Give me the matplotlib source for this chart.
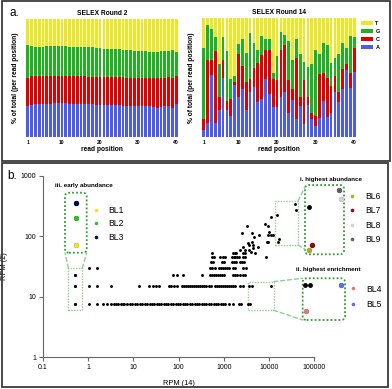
import numpy as np
import matplotlib
matplotlib.use('Agg')
import matplotlib.pyplot as plt
from matplotlib.patches import Rectangle, Patch, FancyBboxPatch
from matplotlib.lines import Line2D
from matplotlib.patches import ConnectionPatch

plt.rcParams['font.family'] = ['Liberation Sans', 'DejaVu Sans']

# ---------------- data: panel a (cumulative % from bottom: A, A+C, A+C+G) ----------------
positions = np.arange(1, 41)
bases = ['A', 'C', 'G', 'T']
base_colors = ['#4d5bea', '#e00000', '#1db31d', '#ebe81c']

r2_A = [26, 27.5, 28, 28, 28, 28, 28, 28.5, 28.5, 28.5, 28.5, 28, 28, 28, 28, 28, 28, 28, 27.5, 27.5,
        27.5, 27.5, 27, 27, 27, 26.5, 26.5, 26.5, 26, 26, 26, 26, 26, 25.5, 25, 25.5, 26, 26.5, 25, 28]
r2_AC = [50, 51.5, 52, 51.5, 51.5, 51.5, 51.5, 52, 51.5, 51.5, 51.5, 51.5, 51.5, 51.5, 51.5, 51.5, 51, 51, 51, 51,
         51, 51, 51, 50.5, 50.5, 50.5, 50, 50, 50, 50, 50, 50, 50, 50, 50, 50, 50, 51, 50, 52]
r2_ACG = [78, 77.5, 76.5, 76.5, 76.5, 77, 77, 77, 77, 77, 77, 76.5, 76.5, 76.5, 76.5, 76, 76, 76, 75.5, 75.5,
          75, 75, 75, 74.5, 74.5, 74, 74, 73.5, 73, 72.5, 72.5, 72.5, 72, 72, 72, 72.5, 72.5, 73, 73.5, 72]

r14_A = [6, 12, 52, 12, 23, 50, 22.5, 18, 44, 34, 40, 23, 38, 42, 29, 32, 49, 36, 25, 25,
         34, 38, 20, 31, 15, 26, 11, 27, 15, 9, 16, 30, 17, 20, 38, 29, 40, 56, 41, 55]
r14_AC = [15, 65, 65, 72, 34, 65, 30, 32, 46, 70, 60, 46, 49, 58, 62, 69, 73, 73, 49, 48,
          73, 77, 48, 40, 66, 34, 48, 34, 20, 18, 53, 54, 50, 43, 51, 38, 57, 61, 54, 75]
r14_ACG = [75, 94, 91, 84, 61, 84, 72, 49, 51.5, 78, 82, 71, 87, 79, 73, 85, 82, 82, 54, 68,
           88, 86, 81, 65, 82, 70, 63, 59, 61, 73, 70, 79, 77, 62, 66, 70, 79, 75, 85, 84]

pos_ticks = [1, 10, 20, 30, 40]

# ---------------- data: panel b (RPM round 14 vs RPM round 2) ----------------
x_row_7 = [0.53, 1.05, 1.58, 2.1, 2.6, 3.2, 3.7, 4.2, 4.7, 5.3, 5.8, 6.3, 7.4, 8.4, 9.5, 11, 12, 14, 16, 18,
           20, 23, 26, 29, 33, 37, 42, 47, 53, 60, 68, 76, 86, 97, 110, 124, 140, 158, 178, 200, 226,
           255, 288, 325, 367, 414, 467, 527, 595, 672, 758, 855, 965, 1090, 1300, 1600, 2200, 2450, 3400]
x_row_15 = [0.53, 1.05, 1.58, 3.2, 13.5, 22, 27, 32, 38, 62, 70, 78, 95, 118, 130, 145, 160, 178, 198, 220,
            245, 272, 302, 336, 373, 415, 461, 512, 632, 702, 780, 867, 963, 1070, 1190, 1320, 1470, 1630,
            1810, 2250, 2700, 3700, 4300]
x_row_22 = [0.53, 75, 91, 124, 330, 500, 560, 620, 690, 760, 840, 930, 1030, 1600, 1800, 2000, 2250, 2700, 3000]
x_row_30 = [1.05, 1.58, 500, 560, 640, 780, 860, 950, 1050, 1180, 1300, 1600, 1800, 2700, 3100]
x_row_37 = [520, 580, 900, 1000, 1550, 1700, 1900, 2300, 2550, 2800]
x_row_45 = [560, 620, 820, 940, 1050, 1500, 1650, 1800, 2000, 2200, 2600, 2900, 8500]
x_row_52 = [540, 1600, 1750, 1900, 2600, 2900]
rows = [(7.5, x_row_7), (15, x_row_15), (22.5, x_row_22), (30, x_row_30),
        (37.5, x_row_37), (45, x_row_45), (52.5, x_row_52)]

x_up = [3300, 2550, 4100, 6000, 4600, 8100, 9300, 11000, 10000, 9500, 11000, 12000, 8900, 9500,
        4100, 3400, 3700, 4500, 5600, 4500, 3000, 2600, 4000, 5000, 3600, 2300, 15000]
y_up = [149, 115, 115, 105, 96, 158, 149, 210, 117, 105, 105, 105, 81, 81,
        81, 76, 72, 72, 66, 63, 60, 66, 55, 52.5, 60, 60, 224]

bl_names = ['BL1', 'BL2', 'BL3', 'BL4', 'BL5', 'BL6', 'BL7', 'BL8', 'BL9']
bl_x = [0.53, 0.53, 0.53, 3800, 11200, 15400, 16600, 40000, 37000]
bl_y = [7.5, 15, 22.5, 7.5, 15, 80, 89, 275, 338]
bl_colors = ['#f0e030', '#30c030', '#0a0a50', '#e07878', '#5c6cf0',
             '#b5a82a', '#8b0a1a', '#d0d0dc', '#606068']

x_ticks_b = [0.1, 1, 10, 100, 1000, 10000, 100000]
x_ticklabels_b = ['0.1', '1', '10', '100', '1000', '10000', '100000']
y_ticks_b = [1, 10, 100, 1000]
y_ticklabels_b = ['1', '10', '100', '1000']

# zoomed regions: x-range, y-range, highlighted BL indices
zoom_iii = ([0.367, 0.75], [6.05, 29.6], [0, 1, 2])
zoom_i = ([13500, 43600], [72, 382], [5, 6, 7, 8])
zoom_ii = ([3450, 12600], [6.0, 17.8], [3, 4])

# all points together
all_x = []
all_y = []
for yv, xs in rows:
    all_x += xs
    all_y += [yv] * len(xs)
all_x += x_up + bl_x
all_y += y_up + bl_y
all_x = np.array(all_x)
all_y = np.array(all_y)

# ---------------- figure ----------------
W, H = 392, 389
fig = plt.figure(figsize=(W / 100, H / 100), dpi=100)


def box(l, t, r, b):
    # pixel box -> figure fraction
    return [l / W, 1 - b / H, (r - l) / W, (b - t) / H]


# panel frames
for (l, t, r, b) in [(1.5, 1.5, 390, 161.5), (1.5, 162.5, 388, 387)]:
    fig.add_artist(Rectangle((l / W, 1 - b / H), (r - l) / W, (b - t) / H, transform=fig.transFigure,
                             fill=False, ec='#3a3a3a', lw=1.3))

fig.text(9 / W, 1 - 13 / H, 'a.', fontsize=8.5, va='center', ha='left')
fig.text(7 / W, 1 - 176 / H, 'b.', fontsize=8.5, va='center', ha='left')

# ---- panel a ----
def stacked(ax, a, ac, acg, title):
    a = np.array(a); ac = np.array(ac); acg = np.array(acg)
    heights = [a, ac - a, acg - ac, 100 - acg]
    bottoms = [0 * a, a, ac, acg]
    for h, btm, c in zip(heights, bottoms, base_colors):
        ax.bar(positions, h, bottom=btm, width=0.72, color=c, linewidth=0)
    ax.set_xlim(0.55, 40.45)
    ax.set_ylim(0, 100)
    for s in ax.spines.values():
        s.set_visible(False)
    ax.set_yticks([])
    ax.set_xticks(pos_ticks)
    ax.tick_params(axis='x', length=0, pad=2.5, labelsize=3.6)
    for lab in ax.get_xticklabels():
        lab.set_fontweight('bold')
    ax.set_xlabel('read position', fontsize=4.8, fontweight='bold', labelpad=0.5)
    ax.set_ylabel('% of total (per read position)', fontsize=4.8, fontweight='bold', labelpad=5)
    ax.set_title(title, fontsize=4.8, fontweight='bold', pad=3)


ax_a1 = fig.add_axes(box(26, 19, 178, 137))
stacked(ax_a1, r2_A, r2_AC, r2_ACG, 'SELEX Round 2')
ax_a2 = fig.add_axes(box(202, 18, 356, 137))
stacked(ax_a2, r14_A, r14_AC, r14_ACG, 'SELEX Round 14')

leg_handles = [Patch(facecolor=c, label=b) for b, c in zip(bases, base_colors)][::-1]
fig.legend(handles=leg_handles, loc='upper left', bbox_to_anchor=(361 / W, 1 - 21 / H),
           prop={'size': 4, 'weight': 'bold'}, frameon=False, borderpad=0, borderaxespad=0,
           handlelength=2.2, handleheight=0.8, labelspacing=0.5, handletextpad=0.4)

# ---- panel b ----
ax_b = fig.add_axes(box(42.7, 175.7, 314.3, 357.3))
ax_b.set_xscale('log')
ax_b.set_yscale('log')
ax_b.plot(all_x, all_y, 'o', color='black', ms=2.1, mew=0)
ax_b.set_xlim(0.1, 100000)
ax_b.set_ylim(1, 1000)
ax_b.set_xticks(x_ticks_b, x_ticklabels_b)
ax_b.set_yticks(y_ticks_b, y_ticklabels_b)
ax_b.minorticks_off()
ax_b.spines['top'].set_visible(False)
ax_b.spines['right'].set_visible(False)
for s in ['left', 'bottom']:
    ax_b.spines[s].set_color('#666666')
    ax_b.spines[s].set_linewidth(0.8)
ax_b.tick_params(direction='out', length=3, width=0.8, color='#666666', labelsize=5, pad=1.5)
ax_b.set_xlabel('RPM (14)', fontsize=5.3, labelpad=7)
ax_b.set_ylabel('RPM (2)', fontsize=5.3, labelpad=9)

light_green = '#8fcf8f'
dark_green = '#2e9e2e'


def zoom_inset(zoom, pix, corners, title, title_xy):
    xr, yr, idx = zoom
    # source box in main axes
    ax_b.add_patch(Rectangle((xr[0], yr[0]), xr[1] - xr[0], yr[1] - yr[0], fill=False,
                             ec=light_green, lw=1.0, ls=(0, (1, 1))))
    ins = fig.add_axes(box(*pix))
    ins.set_xscale('log')
    ins.set_yscale('log')
    sel = (all_x >= xr[0]) & (all_x <= xr[1]) & (all_y >= yr[0]) & (all_y <= yr[1])
    ins.plot(all_x[sel], all_y[sel], 'o', color='black', ms=3.5, mew=0)
    for i in idx:
        ins.plot(bl_x[i], bl_y[i], 'o', color=bl_colors[i], ms=3.8, mew=0)
    ins.set_xlim(*xr)
    ins.set_ylim(*yr)
    ins.set_xticks([])
    ins.set_yticks([])
    ins.minorticks_off()
    ins.tick_params(which='both', length=0)
    ins.patch.set_alpha(0)
    for s in ins.spines.values():
        s.set_visible(False)
    # rounded dotted frame
    w_px, h_px = pix[2] - pix[0], pix[3] - pix[1]
    ins.add_patch(FancyBboxPatch((0, 0), 1, 1, boxstyle='round,pad=0,rounding_size=%.3f' % (4 / w_px),
                                 mutation_aspect=w_px / h_px, transform=ins.transAxes, clip_on=False,
                                 fill=False, ec=dark_green, lw=1.3, ls=(0, (1, 1.2))))
    for (xa, ya), (xb, yb) in corners:
        fig.add_artist(ConnectionPatch(xyA=(xa, ya), coordsA=ax_b.transData, xyB=(xb, yb),
                                       coordsB=ins.transAxes, color=light_green, lw=1.0,
                                       ls=(0, (3, 2))))
    fig.text(title_xy[0] / W, 1 - title_xy[1] / H, title, fontsize=4.5, fontweight='bold',
             ha='left', va='center')
    return ins


zoom_inset(zoom_iii, (65, 192.7, 86.7, 252.7),
           [((0.367, 29.6), (0, 0)), ((0.75, 29.6), (1, 0))],
           'iii. early abundance', (55, 185.3))
zoom_inset(zoom_i, (305, 185, 344, 254.3),
           [((43600, 382), (0, 0.97)), ((43600, 72), (0, 0.07))],
           'i. highest abundance', (300, 179))
zoom_inset(zoom_ii, (302.7, 278.3, 345, 320),
           [((12600, 17.8), (0, 1)), ((12600, 6.0), (0, 0))],
           'ii. highest enrichment', (296, 270))


def bl_legend(idx, left, top, spacing):
    handles = [Line2D([], [], ls='', marker='o', ms=2.6, mew=0, color=bl_colors[i], label=bl_names[i])
               for i in idx]
    fig.legend(handles=handles, loc='upper left', bbox_to_anchor=(left / W, 1 - top / H),
               fontsize=6.2, frameon=False, borderpad=0, borderaxespad=0, handlelength=0.8,
               handletextpad=1.1, labelspacing=spacing)


bl_legend([0, 1, 2], 92.3, 205.9, 0.52)
bl_legend([5, 6, 7, 8], 349, 191.9, 0.64)
bl_legend([3, 4], 350, 284.5, 0.76)

fig.savefig('out.png', dpi=100)
